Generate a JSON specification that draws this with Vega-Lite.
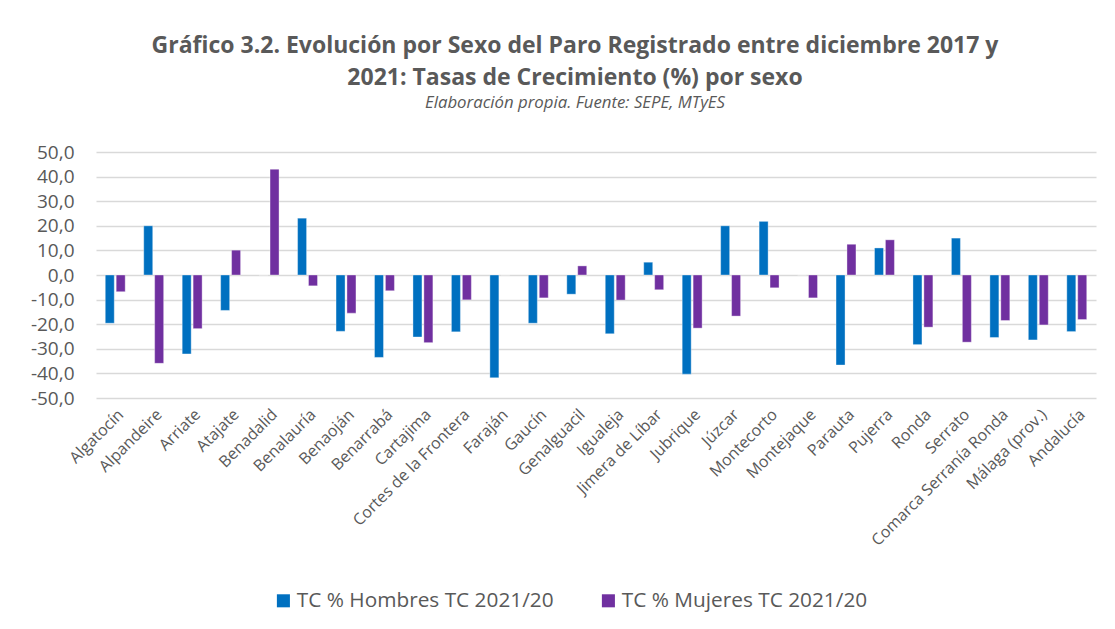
{
  "$schema": "https://vega.github.io/schema/vega-lite/v6.json",
  "width": 1000,
  "height": 246,
  "autosize": {"type": "none"},
  "padding": {"left": 96, "top": 152, "right": 19, "bottom": 231},
  "background": "white",
  "config": {
    "locale": {"number": {"decimal": ",", "thousands": ".", "grouping": [3], "currency": ["", " €"], "minus": "-"}},
    "view": {"stroke": null},
    "font": "Open Sans"
  },
  "title": {
    "text": ["Gráfico 3.2. Evolución por Sexo del Paro Registrado entre diciembre 2017 y", "2021: Tasas de Crecimiento (%) por sexo"],
    "subtitle": "Elaboración propia. Fuente: SEPE, MTyES",
    "anchor": "middle",
    "dx": -21,
    "offset": 31,
    "font": "Open Sans",
    "fontSize": 23,
    "fontWeight": "bold",
    "color": "#595959",
    "lineHeight": 32,
    "subtitleFont": "Open Sans",
    "subtitleFontSize": 16.8,
    "subtitleFontStyle": "italic",
    "subtitleColor": "#595959",
    "subtitlePadding": 5
  },
  "data": {
    "values": [
      {"municipio": "Algatocín", "sexo": "TC % Hombres TC 2021/20", "tc": -19.6},
      {"municipio": "Algatocín", "sexo": "TC % Mujeres TC 2021/20", "tc": -6.8},
      {"municipio": "Alpandeire", "sexo": "TC % Hombres TC 2021/20", "tc": 20.0},
      {"municipio": "Alpandeire", "sexo": "TC % Mujeres TC 2021/20", "tc": -35.9},
      {"municipio": "Arriate", "sexo": "TC % Hombres TC 2021/20", "tc": -32.1},
      {"municipio": "Arriate", "sexo": "TC % Mujeres TC 2021/20", "tc": -21.8},
      {"municipio": "Atajate", "sexo": "TC % Hombres TC 2021/20", "tc": -14.4},
      {"municipio": "Atajate", "sexo": "TC % Mujeres TC 2021/20", "tc": 10.1},
      {"municipio": "Benadalid", "sexo": "TC % Hombres TC 2021/20", "tc": 0},
      {"municipio": "Benadalid", "sexo": "TC % Mujeres TC 2021/20", "tc": 43.0},
      {"municipio": "Benalauría", "sexo": "TC % Hombres TC 2021/20", "tc": 23.1},
      {"municipio": "Benalauría", "sexo": "TC % Mujeres TC 2021/20", "tc": -4.4},
      {"municipio": "Benaoján", "sexo": "TC % Hombres TC 2021/20", "tc": -22.9},
      {"municipio": "Benaoján", "sexo": "TC % Mujeres TC 2021/20", "tc": -15.5},
      {"municipio": "Benarrabá", "sexo": "TC % Hombres TC 2021/20", "tc": -33.5},
      {"municipio": "Benarrabá", "sexo": "TC % Mujeres TC 2021/20", "tc": -6.4},
      {"municipio": "Cartajima", "sexo": "TC % Hombres TC 2021/20", "tc": -25.2},
      {"municipio": "Cartajima", "sexo": "TC % Mujeres TC 2021/20", "tc": -27.5},
      {"municipio": "Cortes de la Frontera", "sexo": "TC % Hombres TC 2021/20", "tc": -23.1},
      {"municipio": "Cortes de la Frontera", "sexo": "TC % Mujeres TC 2021/20", "tc": -10.1},
      {"municipio": "Faraján", "sexo": "TC % Hombres TC 2021/20", "tc": -41.8},
      {"municipio": "Faraján", "sexo": "TC % Mujeres TC 2021/20", "tc": 0},
      {"municipio": "Gaucín", "sexo": "TC % Hombres TC 2021/20", "tc": -19.6},
      {"municipio": "Gaucín", "sexo": "TC % Mujeres TC 2021/20", "tc": -9.3},
      {"municipio": "Genalguacil", "sexo": "TC % Hombres TC 2021/20", "tc": -7.8},
      {"municipio": "Genalguacil", "sexo": "TC % Mujeres TC 2021/20", "tc": 3.7},
      {"municipio": "Igualeja", "sexo": "TC % Hombres TC 2021/20", "tc": -23.9},
      {"municipio": "Igualeja", "sexo": "TC % Mujeres TC 2021/20", "tc": -10.2},
      {"municipio": "Jimera de Líbar", "sexo": "TC % Hombres TC 2021/20", "tc": 5.2},
      {"municipio": "Jimera de Líbar", "sexo": "TC % Mujeres TC 2021/20", "tc": -6.0},
      {"municipio": "Jubrique", "sexo": "TC % Hombres TC 2021/20", "tc": -40.3},
      {"municipio": "Jubrique", "sexo": "TC % Mujeres TC 2021/20", "tc": -21.6},
      {"municipio": "Júzcar", "sexo": "TC % Hombres TC 2021/20", "tc": 20.0},
      {"municipio": "Júzcar", "sexo": "TC % Mujeres TC 2021/20", "tc": -16.7},
      {"municipio": "Montecorto", "sexo": "TC % Hombres TC 2021/20", "tc": 21.8},
      {"municipio": "Montecorto", "sexo": "TC % Mujeres TC 2021/20", "tc": -5.2},
      {"municipio": "Montejaque", "sexo": "TC % Hombres TC 2021/20", "tc": 0},
      {"municipio": "Montejaque", "sexo": "TC % Mujeres TC 2021/20", "tc": -9.3},
      {"municipio": "Parauta", "sexo": "TC % Hombres TC 2021/20", "tc": -36.6},
      {"municipio": "Parauta", "sexo": "TC % Mujeres TC 2021/20", "tc": 12.5},
      {"municipio": "Pujerra", "sexo": "TC % Hombres TC 2021/20", "tc": 11.0},
      {"municipio": "Pujerra", "sexo": "TC % Mujeres TC 2021/20", "tc": 14.3},
      {"municipio": "Ronda", "sexo": "TC % Hombres TC 2021/20", "tc": -28.3},
      {"municipio": "Ronda", "sexo": "TC % Mujeres TC 2021/20", "tc": -21.2},
      {"municipio": "Serrato", "sexo": "TC % Hombres TC 2021/20", "tc": 15.0},
      {"municipio": "Serrato", "sexo": "TC % Mujeres TC 2021/20", "tc": -27.3},
      {"municipio": "Comarca Serranía Ronda", "sexo": "TC % Hombres TC 2021/20", "tc": -25.4},
      {"municipio": "Comarca Serranía Ronda", "sexo": "TC % Mujeres TC 2021/20", "tc": -18.5},
      {"municipio": "Málaga (prov.)", "sexo": "TC % Hombres TC 2021/20", "tc": -26.4},
      {"municipio": "Málaga (prov.)", "sexo": "TC % Mujeres TC 2021/20", "tc": -20.3},
      {"municipio": "Andalucía", "sexo": "TC % Hombres TC 2021/20", "tc": -23.0},
      {"municipio": "Andalucía", "sexo": "TC % Mujeres TC 2021/20", "tc": -18.1}
    ]
  },
  "mark": {"type": "bar", "width": 9, "stroke": "white", "strokeWidth": 0.6, "strokeOpacity": 0.6},
  "encoding": {
    "x": {
      "field": "municipio",
      "type": "nominal",
      "sort": null,
      "scale": {"paddingInner": 0.46, "paddingOuter": 0.23},
      "axis": {
        "title": null,
        "labelAngle": -45,
        "labelFontSize": 16,
        "labelColor": "#595959",
        "labelPadding": 8,
        "labelLimit": 400,
        "domain": false,
        "ticks": false,
        "grid": false,
        "labelOverlap": false
      }
    },
    "xOffset": {"field": "sexo", "type": "nominal", "scale": {"paddingInner": 0.1}},
    "y": {
      "field": "tc",
      "type": "quantitative",
      "scale": {"domain": [-50, 50], "nice": false, "zero": true},
      "axis": {
        "title": null,
        "values": [-50, -40, -30, -20, -10, 0, 10, 20, 30, 40, 50],
        "format": ".1f",
        "labelFontSize": 19,
        "labelColor": "#595959",
        "labelPadding": 22,
        "domain": false,
        "ticks": false,
        "gridColor": "#d9d9d9",
        "gridWidth": 1.5
      }
    },
    "color": {
      "field": "sexo",
      "type": "nominal",
      "scale": {"domain": ["TC % Hombres TC 2021/20", "TC % Mujeres TC 2021/20"], "range": ["#0070C0", "#7030A0"]},
      "legend": {
        "title": null,
        "orient": "none",
        "direction": "horizontal",
        "legendX": 177,
        "legendY": 438,
        "symbolType": "square",
        "symbolSize": 170,
        "symbolStrokeWidth": 0,
        "labelFontSize": 20.8,
        "labelLimit": 400,
        "labelColor": "#595959",
        "labelOffset": 3,
        "columnPadding": 44,
        "padding": 0
      }
    }
  }
}
